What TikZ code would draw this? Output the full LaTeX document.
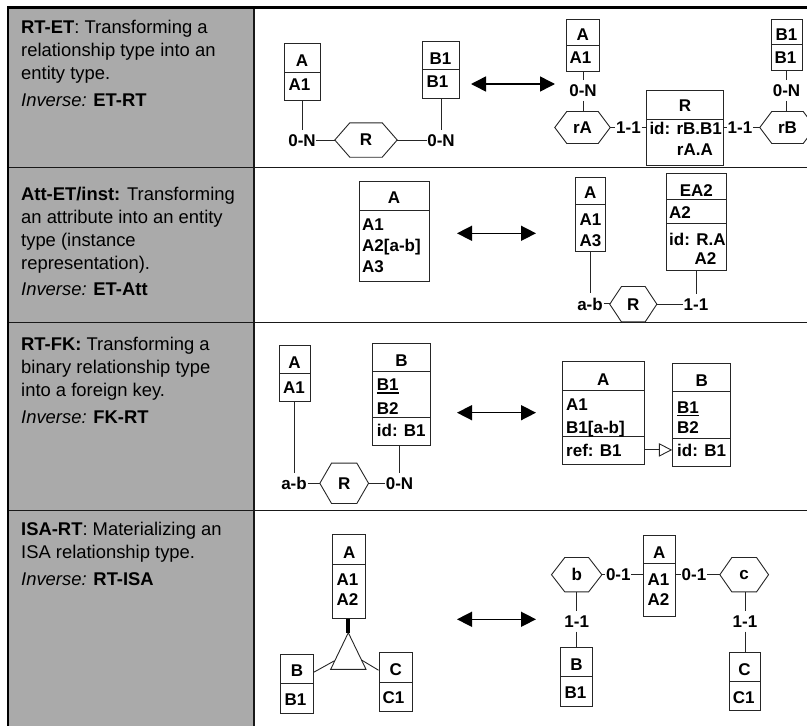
\documentclass[tikz,border=0pt]{standalone}
\usepackage{fontspec}
\setmainfont{Liberation Sans}
\usetikzlibrary{arrows.meta,fit}
\definecolor{cellgray}{RGB}{170,170,170}

% hexagonal relationship node: name, x, y, width, height, point depth, label
\newcommand\erhex[7]{%
  \node[etxt, minimum width=#4pt, minimum height=#5pt] (#1) at (#2,#3) {#7};
  \draw[ln] ([xshift=#6pt]#1.north west) -- ([xshift=-#6pt]#1.north east) -- (#1.east)
    -- ([xshift=-#6pt]#1.south east) -- ([xshift=#6pt]#1.south west) -- (#1.west) -- cycle;}
% underlined identifier
\newcommand\idul[1]{\setbox0\hbox{#1}\rlap{\rule[-3pt]{\wd0}{1.3pt}}\box0}

\tikzset{
  ln/.style={draw=black!85, line width=0.9pt},
  ebox/.style={draw=black!85, line width=0.9pt, fill=white, inner sep=0pt},
  etxt/.style={font=\fontsize{17}{20}\selectfont\bfseries, inner sep=0pt, text=black},
  card/.style={etxt, anchor=base, inner xsep=0.6pt, inner ysep=4pt},
  hd/.style={etxt, anchor=base},
  attr/.style={etxt, anchor=base west},
  desc/.style={font=\fontsize{18.4}{23}\selectfont, inner sep=0pt, anchor=north west, align=left},
  dblarrow/.style={line width=1.5pt, {Triangle[length=15pt,width=15pt]}-{Triangle[length=15pt,width=15pt]}},
  tblrule/.style={draw=black!90, line width=1.4pt},
}

\begin{document}
\begin{tikzpicture}[x=1pt, y=-1pt]
\useasboundingbox (0,0) rectangle (807,726);
\clip (0,0) rectangle (807,726);

% ---------- table ----------
\fill[cellgray] (9,9) rectangle (253.8,726);
\draw[tblrule] (8,167.3) -- (807,167.3);
\draw[tblrule] (8,322.5) -- (807,322.5);
\draw[tblrule] (8,510.3) -- (807,510.3);
\draw[tblrule] (253.8,8) -- (253.8,726);
\draw[black, line width=2.6pt] (7,7.7) -- (807,7.7);
\draw[black, line width=2.2pt] (8.2,6.5) -- (8.2,726);

% ---------- descriptions ----------
\node[desc] (d1) at (21,17.4) {\strut\textbf{RT-ET}: Transforming a\\relationship type into an\\entity type.\\[4pt]\textit{Inverse:} \textbf{ET-RT}};
\node[desc] (d2) at (21,183.8) {\strut\textbf{Att-ET/inst:} Transforming\\an attribute into an entity\\type (instance\\representation).\\[3pt]\textit{Inverse:} \textbf{ET-Att}};
\node[desc] (d3) at (21,333.9) {\strut\textbf{RT-FK:} Transforming a\\binary relationship type\\into a foreign key.\\[4pt]\textit{Inverse:} \textbf{FK-RT}};
\node[desc] (d4) at (21,518.9) {\strut\textbf{ISA-RT}: Materializing an\\ISA relationship type.\\[4pt]\textit{Inverse:} \textbf{RT-ISA}};

% ---------- RT-ET : before ----------
\node[ebox, fit={(284,43)(320,100)}] (aA) {};
\draw[ln] (284,72) -- (320,72);
\node[hd] (aAh) at (302,66) {A};
\node[attr] (aA1) at (288.5,90) {A1};
\node[ebox, fit={(422,41)(459,98)}] (aB) {};
\draw[ln] (422,69) -- (459,69);
\node[hd] (aBh) at (440.5,64) {B1};
\node[attr] (aB1) at (426.5,87.5) {B1};
\node[card] (aN1) at (302,146.5) {0-N};
\node[card] (aN2) at (441,146.5) {0-N};
\erhex{aR}{366}{140}{62}{34}{15}{R}
\draw[ln] (aA.south -| aN1.north) -- (aN1.north);
\draw[ln] (aN1.east) -- (aN1.east -| aR.west);
\draw[ln] (aR.east) -- (aR.east -| aN2.west);
\draw[ln] (aB.south -| aN2.north) -- (aN2.north);

\coordinate (a1l) at (471,84);
\coordinate (a1r) at (555,84);
\draw[dblarrow] (a1l) -- (a1r);

% ---------- RT-ET : after ----------
\node[ebox, fit={(566,19)(599.3,71)}] (bA) {};
\draw[ln] (566,45) -- (599.3,45);
\node[hd] (bAh) at (582.7,40) {A};
\node[attr] (bA1) at (569.5,63.5) {A1};
\node[card] (bN1) at (583,96.5) {0-N};
\erhex{brA}{582.5}{127.5}{55}{31.6}{12}{rA}
\draw[ln] (bA.south -| bN1.north) -- (bN1.north);
\draw[ln] (bN1.south) -- (bN1.south |- brA.north);
\node[card] (b11a) at (628.5,133) {1-1};
\node[ebox, fit={(646,90.7)(723.3,165.7)}] (bR) {};
\draw[ln] (646,119) -- (723.3,119);
\node[hd] (bRh) at (685,111) {R};
\node[attr] (bRid) at (649.3,134) {id: rB.B1};
\node[attr] (bRid2) at (676.7,155.7) {rA.A};
\draw[ln] (brA.east) -- (brA.east -| b11a.west);
\draw[ln] (b11a.east) -- (b11a.east -| bR.west);
\node[card] (b11b) at (740,133) {1-1};
\erhex{brB}{787.5}{127.5}{55}{31.6}{12}{rB}
\draw[ln] (b11b.west -| bR.east) -- (b11b.west);
\draw[ln] (b11b.east) -- (b11b.east -| brB.west);
\node[ebox, fit={(771,19)(802,70)}] (bB) {};
\draw[ln] (771,44) -- (802,44);
\node[hd] (bBh) at (786.5,40) {B1};
\node[attr] (bB1) at (774.5,63.5) {B1};
\node[card] (bN2) at (786.5,96.5) {0-N};
\draw[ln] (bB.south -| bN2.north) -- (bN2.north);
\draw[ln] (bN2.south) -- (bN2.south |- brB.north);

% ---------- Att-ET/inst : before ----------
\node[ebox, fit={(359.3,181.7)(429,281.7)}] (cA) {};
\draw[ln] (359.3,210) -- (429,210);
\node[hd] (cAh) at (394,203.5) {A};
\node[attr] (cA1) at (362,230) {A1};
\node[attr] (cA2) at (362,251.7) {A2[a-b]};
\node[attr] (cA3) at (362,272.7) {A3};

\coordinate (a2l) at (457,233.3);
\coordinate (a2r) at (536,233.3);
\draw[dblarrow] (a2l) -- (a2r);

% ---------- Att-ET/inst : after ----------
\node[ebox, fit={(575.7,177.3)(605,251)}] (dA) {};
\draw[ln] (575.7,204.3) -- (605,204.3);
\node[hd] (dAh) at (590.3,198.3) {A};
\node[attr] (dA1) at (579.5,225) {A1};
\node[attr] (dA3) at (579.5,246) {A3};
\node[card] (dab) at (590,310) {a-b};
\erhex{dR}{633.3}{304.2}{46.7}{35}{11.7}{R}
\node[card] (d11) at (696,310) {1-1};
\node[ebox, fit={(666,173.3)(726.7,270)}] (dE) {};
\draw[ln] (666,199.3) -- (726.7,199.3);
\draw[ln] (666,223.3) -- (726.7,223.3);
\node[hd] (dEh) at (696.4,196.7) {EA2};
\node[attr] (dE1) at (669,218.3) {A2};
\node[attr] (dEid) at (669,245) {id: R.A};
\node[attr] (dEid2) at (694.5,264) {A2};
\draw[ln] (dA.south -| dab.north) -- (dab.north);
\draw[ln] (dab.east) -- (dab.east -| dR.west);
\draw[ln] (dR.east) -- (dR.east -| d11.west);
\draw[ln] (dE.south -| d11.north) -- (d11.north);

% ---------- RT-FK : before ----------
\node[ebox, fit={(279.3,345)(310,401)}] (eA) {};
\draw[ln] (279.3,373.3) -- (310,373.3);
\node[hd] (eAh) at (294.5,368) {A};
\node[attr] (eA1) at (283,393.3) {A1};
\node[card] (eab) at (294,489.3) {a-b};
\erhex{eR}{344.2}{483.3}{48.3}{40}{11.7}{R}
\node[card] (eN) at (399.5,489.3) {0-N};
\node[ebox, fit={(372.7,343.3)(430,445)}] (eB) {};
\draw[ln] (372.7,371.7) -- (430,371.7);
\draw[ln] (372.7,417.3) -- (430,417.3);
\node[hd] (eBh) at (401.4,366.7) {B};
\node[attr] (eB1) at (376.7,390.7) {\idul{B1}};
\node[attr] (eB2) at (376.7,414) {B2};
\node[attr] (eBid) at (376.7,436.7) {id: B1};
\draw[ln] (eA.south -| eab.north) -- (eab.north);
\draw[ln] (eab.east) -- (eab.east -| eR.west);
\draw[ln] (eR.east) -- (eR.east -| eN.west);
\draw[ln] (eB.south -| eN.north) -- (eN.north);

\coordinate (a3l) at (457,412.7);
\coordinate (a3r) at (536,412.7);
\draw[dblarrow] (a3l) -- (a3r);

% ---------- RT-FK : after ----------
\node[ebox, fit={(562.3,361.7)(644.3,464)}] (fA) {};
\draw[ln] (562.3,390) -- (644.3,390);
\node[ebox, fit={(672.7,363.3)(730.7,466)}] (fB) {};
\draw[ln] (562.3,436.7) -- (644.3,436.7);
\draw[ln] (672.7,391.7) -- (730.7,391.7);
\draw[ln] (672.7,438.3) -- (730.7,438.3);
\node[hd] (fAh) at (603.3,385) {A};
\node[attr] (fA1) at (566,410) {A1};
\node[attr] (fA2) at (566,433.3) {B1[a-b]};
\node[attr] (fAref) at (566,456) {ref: B1};
\node[hd] (fBh) at (701.7,386.7) {B};
\node[attr] (fB1) at (677,413.3) {\idul{B1}};
\node[attr] (fB2) at (677,433.3) {B2};
\node[attr] (fBid) at (677,456.7) {id: B1};
\draw[ln, -{Triangle[open,length=13.4pt,width=13.4pt]}] (fA.east |- fAref) -- (fB.west |- fAref);

% ---------- ISA-RT : before ----------
\node[ebox, fit={(332.7,534)(365.7,618.3)}] (gA) {};
\draw[ln] (332.7,564) -- (365.7,564);
\node[hd] (gAh) at (349.2,558.3) {A};
\node[attr] (gA1) at (336.5,585) {A1};
\node[attr] (gA2) at (336.5,605) {A2};
\coordinate (gT) at (348.3,632.7);
\coordinate (gTl) at (330.7,669.3);
\coordinate (gTr) at (366,669.3);
\coordinate (gTls) at (334.6,660.7);
\coordinate (gTrs) at (361.5,660);
\draw[ln] (gT) -- (gTl) -- (gTr) -- cycle;
\draw[black, line width=4pt] (gA.south -| gT) -- (gT);
\node[ebox, fit={(280.7,654)(313.3,713.3)}] (gB) {};
\draw[ln] (280.7,683.3) -- (313.3,683.3);
\node[hd] (gBh) at (297,676.7) {B};
\node[attr] (gB1) at (284.5,705) {B1};
\node[ebox, fit={(379,652.7)(412.3,711.7)}] (gC) {};
\draw[ln] (379,682.3) -- (412.3,682.3);
\node[hd] (gCh) at (395.7,675.7) {C};
\node[attr] (gC1) at (382.5,703.3) {C1};
\draw[ln] ([yshift=-18.7pt]gB.north east) -- (gTls);
\draw[ln] ([yshift=-18pt]gC.north west) -- (gTrs);

\coordinate (a4l) at (457,619.3);
\coordinate (a4r) at (536,619.3);
\draw[dblarrow] (a4l) -- (a4r);

% ---------- ISA-RT : after ----------
\erhex{hb}{576.7}{574.7}{50}{34}{13.3}{b}
\node[card] (h01a) at (618.3,580.7) {0-1};
\node[ebox, fit={(643.3,535)(675,616)}] (hA) {};
\draw[ln] (643.3,563.3) -- (675,563.3);
\node[hd] (hAh) at (659.2,558.3) {A};
\node[attr] (hA1) at (647.5,585) {A1};
\node[attr] (hA2) at (647.5,605) {A2};
\node[card] (h01b) at (694,580.7) {0-1};
\erhex{hc}{744.2}{574.7}{48.3}{34}{12}{c}
\draw[ln] (hb.east) -- (hb.east -| h01a.west);
\draw[ln] (h01a.east) -- (h01a.east -| hA.west);
\draw[ln] (h01b.west -| hA.east) -- (h01b.west);
\draw[ln] (h01b.east) -- (h01b.east -| hc.west);
\node[card] (h11a) at (576.7,627.3) {1-1};
\node[card] (h11b) at (745,627.3) {1-1};
\node[ebox, fit={(560.7,647.3)(592.3,706.7)}] (hB) {};
\draw[ln] (560.7,676) -- (592.3,676);
\node[hd] (hBh) at (576.5,670.7) {B};
\node[attr] (hB1) at (564.5,698.3) {B1};
\node[ebox, fit={(729,652.7)(760,710)}] (hC) {};
\draw[ln] (729,681.7) -- (760,681.7);
\node[hd] (hCh) at (744.5,675.7) {C};
\node[attr] (hC1) at (732.7,703.3) {C1};
\draw[ln] (h11a.north |- hb.south) -- (h11a.north);
\draw[ln] (h11a.south) -- (h11a.south |- hB.north);
\draw[ln] (h11b.north |- hc.south) -- (h11b.north);
\draw[ln] (h11b.south) -- (h11b.south |- hC.north);
\end{tikzpicture}
\end{document}
